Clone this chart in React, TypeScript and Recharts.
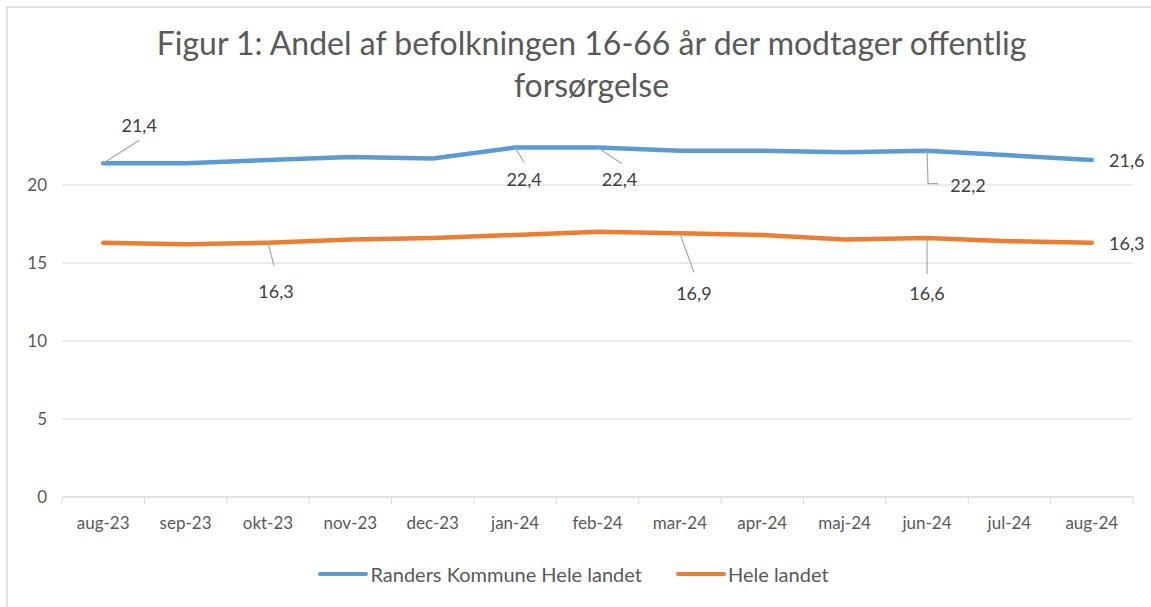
// Figur 1: share of population aged 16-66 on public support
import { LineChart, Line, XAxis, YAxis, CartesianGrid, Legend } from "recharts";

const months = [
  "aug-23", "sep-23", "okt-23", "nov-23", "dec-23", "jan-24", "feb-24",
  "mar-24", "apr-24", "maj-24", "jun-24", "jul-24", "aug-24",
];
const randers = [21.4, 21.4, 21.6, 21.8, 21.7, 22.4, 22.4, 22.2, 22.2, 22.1, 22.2, 21.9, 21.6];
const heleLandet = [16.3, 16.2, 16.3, 16.5, 16.6, 16.8, 17.0, 16.9, 16.8, 16.5, 16.6, 16.4, 16.3];
const yTicks = [0, 5, 10, 15, 20];

const SERIES = [
  { key: "randers", name: "Randers Kommune Hele landet", color: "#5B9BD5" },
  { key: "hele", name: "Hele landet", color: "#ED7D31" },
];

const data = months.map((m, i) => ({ month: m, randers: randers[i], hele: heleLandet[i] }));

const FONT = "Lato, 'Open Sans', sans-serif";
const HALF_BAND = (1151 - 62 - 18) / months.length / 2;

// where each shown data label sits relative to its point (label centre + leader line)
type LabelPos = { dx: number; dy: number; lead?: number[][] };
const blueLabels: Record<number, LabelPos> = {
  0: { dx: 36, dy: -38, lead: [[0, 0], [36, -23]] },
  5: { dx: 9, dy: 31, lead: [[0, 0], [9, 15]] },
  6: { dx: 22, dy: 31, lead: [[0, 0], [24, 16]] },
  10: { dx: 41, dy: 34, lead: [[0, 0], [1, 33], [11, 33]] },
  12: { dx: 35, dy: 0 },
};
const orangeLabels: Record<number, LabelPos> = {
  2: { dx: 8, dy: 48, lead: [[0, 0], [6, 23]] },
  7: { dx: 14, dy: 60, lead: [[0, 0], [14, 39]] },
  10: { dx: 0, dy: 55, lead: [[0, 0], [0, 36]] },
  12: { dx: 35, dy: 0 },
};

const makeLabel = (positions: Record<number, LabelPos>) => (props: any) => {
  const { x, y, index, value } = props;
  const pos = positions[index];
  if (!pos) return null;
  return (
    <g>
      {pos.lead && (
        <polyline
          points={pos.lead.map(([a, b]) => `${x + a},${y + b}`).join(" ")}
          fill="none"
          stroke="#a6a6a6"
          strokeWidth={1.2}
        />
      )}
      <text
        x={x + pos.dx}
        y={y + pos.dy}
        textAnchor="middle"
        dominantBaseline="central"
        fontSize={18}
        fill="#404040"
        fontFamily={FONT}
      >
        {String(value).replace(".", ",")}
      </text>
    </g>
  );
};

const MonthTick = (props: any) => {
  const { x, y, payload, index } = props;
  return (
    <g>
      <line x1={x - HALF_BAND} y1={y - 8} x2={x - HALF_BAND} y2={y - 1} stroke="#d9d9d9" />
      {index === months.length - 1 && (
        <line x1={x + HALF_BAND} y1={y - 8} x2={x + HALF_BAND} y2={y - 1} stroke="#d9d9d9" />
      )}
      <text x={x} y={y + 24} textAnchor="middle" fontSize={17} fill="#595959" fontFamily={FONT}>
        {payload.value}
      </text>
    </g>
  );
};

const LegendBox = () => (
  <div style={{ display: "flex", justifyContent: "center", gap: 34, fontFamily: FONT, fontSize: 20, color: "#595959", paddingLeft: 14 }}>
    {SERIES.map((s) => (
      <div key={s.key} style={{ display: "flex", alignItems: "center" }}>
        <span style={{ display: "inline-block", width: 50, height: 4, background: s.color, marginRight: 2, borderRadius: 2 }} />
        {s.name}
      </div>
    ))}
  </div>
);

export default function App() {
  return (
    <div
      style={{
        position: "fixed",
        left: 0,
        top: 0,
        width: 1151,
        height: 607,
        background: "#fff",
      }}
    >
      <div
        style={{
          position: "absolute",
          left: 6,
          top: 6,
          right: 0,
          bottom: 0,
          borderTop: "2px solid #e2e2e2",
          borderLeft: "2px solid #e2e2e2",
        }}
      />
      <div
        style={{
          position: "absolute",
          top: 22,
          left: 0,
          width: 1151,
          textAlign: "center",
          fontFamily: FONT,
          fontSize: 32,
          lineHeight: "42px",
          color: "#595959",
          paddingLeft: 32,
          boxSizing: "border-box",
        }}
      >
        Figur 1: Andel af befolkningen 16-66 år der modtager offentlig
        <br />
        forsørgelse
      </div>
      <LineChart
        width={1151}
        height={607}
        data={data}
        margin={{ top: 107, right: 18, bottom: 0, left: 0 }}
        style={{ position: "absolute", left: 0, top: 0 }}
      >
        <CartesianGrid vertical={false} stroke="#d9d9d9" horizontalValues={yTicks} />
        <XAxis
          dataKey="month"
          height={65}
          tick={<MonthTick />}
          tickLine={false}
          axisLine={{ stroke: "#d9d9d9" }}
          interval={0}
          padding={{ left: HALF_BAND, right: HALF_BAND }}
        />
        <YAxis
          domain={[0, 25]}
          ticks={yTicks}
          width={62}
          axisLine={false}
          tickLine={false}
          tickSize={0}
          tickMargin={15}
          tick={{ fontSize: 17, fill: "#595959", fontFamily: FONT }}
        />
        <Legend verticalAlign="bottom" height={45} content={<LegendBox />} />
        <Line
          dataKey="randers"
          name={SERIES[0].name}
          stroke={SERIES[0].color}
          strokeWidth={4.5}
          strokeLinecap="round"
          dot={false}
          isAnimationActive={false}
          label={makeLabel(blueLabels)}
        />
        <Line
          dataKey="hele"
          name={SERIES[1].name}
          stroke={SERIES[1].color}
          strokeWidth={4.5}
          strokeLinecap="round"
          dot={false}
          isAnimationActive={false}
          label={makeLabel(orangeLabels)}
        />
      </LineChart>
    </div>
  );
}
